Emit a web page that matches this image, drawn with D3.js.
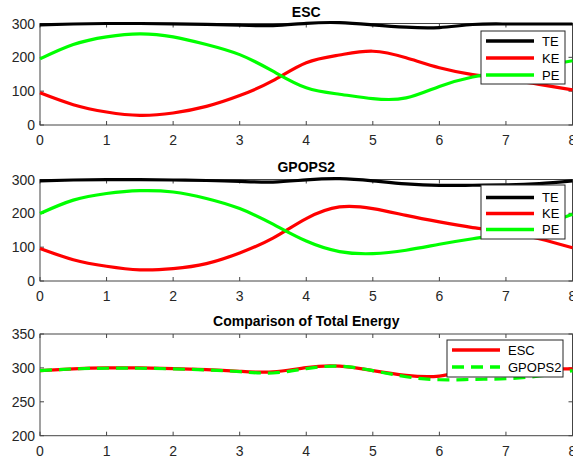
<!DOCTYPE html>
<html>
<head>
<meta charset="utf-8">
<script src="https://cdn.jsdelivr.net/npm/d3@7"></script>
<style>
  body { margin: 0; background: #fff; }
  svg { display: block; font-family: "Liberation Sans", Arial, sans-serif; }
</style>
</head>
<body>
<svg id="chart" width="573" height="460"></svg>
<script>
// time samples (s)
var time = [0, 0.5, 1, 1.5, 2, 2.5, 3, 3.5, 4, 4.5, 5, 5.5, 6, 6.5, 7, 7.5, 8];

// ESC energies
var escTE = [296, 298.5, 300, 300, 299, 297.5, 295, 294, 300.5, 302.5, 296, 289, 288, 297, 298.5, 298.5, 298.5];
var escKE = [95, 60, 38.5, 28.5, 35.5, 55, 87, 131, 184, 207, 218, 198.5, 169, 149, 136, 120, 104];
var escPE = [195.5, 238, 260.6, 269.5, 260.6, 238, 208, 159, 110, 91, 78, 80, 114, 142, 158, 173, 190];

// GPOPS2 energies
var gpTE = [296, 298.5, 299.5, 299.5, 298.5, 297, 294.5, 292.5, 299, 302.5, 296, 287, 282.5, 283, 284, 288, 296];
var gpKE = [96, 63, 43.5, 33, 36.7, 51.5, 83, 127, 184.6, 219, 214, 194, 174.6, 158, 145, 125, 98];
var gpPE = [199.5, 239, 258.6, 267, 263, 244, 214, 168, 118, 87, 81, 91, 108.6, 125, 140, 163, 197];

var xTicks = [0, 1, 2, 3, 4, 5, 6, 7, 8];
var yTicksEnergy = [0, 100, 200, 300];
var yTicksTotal = [200, 250, 300, 350];

var svg = d3.select("#chart");
var left = 40, right = 572.5;
var axisColor = "#444";

function panel(opt) {
  var x = d3.scaleLinear().domain([0, 8]).range([left, right]);
  var y = d3.scaleLinear().domain(opt.ydomain).range([opt.bottom, opt.top]);
  var g = svg.append("g");

  // box
  g.append("rect")
    .attr("x", left).attr("y", opt.top)
    .attr("width", right - left).attr("height", opt.bottom - opt.top)
    .attr("fill", "none").attr("stroke", axisColor).attr("stroke-width", 1);

  // ticks inward on all four sides
  var tl = 4;
  xTicks.forEach(function (t) {
    g.append("line").attr("x1", x(t)).attr("x2", x(t))
      .attr("y1", opt.bottom).attr("y2", opt.bottom - tl)
      .attr("stroke", axisColor);
    g.append("line").attr("x1", x(t)).attr("x2", x(t))
      .attr("y1", opt.top).attr("y2", opt.top + tl)
      .attr("stroke", axisColor);
    g.append("text").attr("x", x(t)).attr("y", opt.bottom + 20)
      .attr("text-anchor", "middle").style("font-size", "14px")
      .attr("fill", "#262626").text(t);
  });
  opt.yticks.forEach(function (v) {
    g.append("line").attr("x1", left).attr("x2", left + tl)
      .attr("y1", y(v)).attr("y2", y(v)).attr("stroke", axisColor);
    g.append("line").attr("x1", right).attr("x2", right - tl)
      .attr("y1", y(v)).attr("y2", y(v)).attr("stroke", axisColor);
    g.append("text").attr("x", 35).attr("y", y(v))
      .attr("dy", "0.36em").attr("text-anchor", "end")
      .style("font-size", "14px").attr("fill", "#262626").text(v);
  });

  // title
  g.append("text").attr("x", (left + right) / 2).attr("y", opt.titleY)
    .attr("text-anchor", "middle").style("font-size", "14px")
    .style("font-weight", "bold").attr("fill", "#000").text(opt.title);

  var line = d3.line()
    .x(function (d, i) { return x(time[i]); })
    .y(function (d) { return y(d); })
    .curve(d3.curveNatural);

  opt.series.forEach(function (s) {
    g.append("path").datum(s.values)
      .attr("d", line)
      .attr("fill", "none")
      .attr("stroke", s.color)
      .attr("stroke-width", 3.2)
      .attr("stroke-dasharray", s.dash || null);
  });

  // legend
  var L = opt.legend;
  var lg = g.append("g");
  lg.append("rect").attr("x", L.x).attr("y", L.y)
    .attr("width", L.w).attr("height", L.h)
    .attr("fill", "#fff").attr("stroke", "#262626").attr("stroke-width", 1);
  opt.series.forEach(function (s, i) {
    var ly = L.y + L.first + i * L.step;
    lg.append("line").attr("x1", L.x + 5).attr("x2", L.x + 5 + L.len)
      .attr("y1", ly).attr("y2", ly)
      .attr("stroke", s.color).attr("stroke-width", 3.5)
      .attr("stroke-dasharray", s.dash || null);
    lg.append("text").attr("x", L.x + L.len + 13).attr("y", ly)
      .attr("dy", "0.36em").style("font-size", "13px")
      .attr("fill", "#000").text(s.name);
  });
}

panel({
  title: "ESC", titleY: 17, top: 23.5, bottom: 125, ydomain: [0, 300], yticks: yTicksEnergy,
  series: [
    {name: "TE", values: escTE, color: "#000000"},
    {name: "KE", values: escKE, color: "#ff0000"},
    {name: "PE", values: escPE, color: "#00ff00"}
  ],
  legend: {x: 481, y: 31, w: 84, h: 53, first: 10, step: 17, len: 48}
});

panel({
  title: "GPOPS2", titleY: 172, top: 179.5, bottom: 281, ydomain: [0, 300], yticks: yTicksEnergy,
  series: [
    {name: "TE", values: gpTE, color: "#000000"},
    {name: "KE", values: gpKE, color: "#ff0000"},
    {name: "PE", values: gpPE, color: "#00ff00"}
  ],
  legend: {x: 481, y: 185, w: 84, h: 54, first: 12.5, step: 16, len: 48}
});

panel({
  title: "Comparison of Total Energy", titleY: 326, top: 334, bottom: 435.7, ydomain: [200, 350], yticks: yTicksTotal,
  series: [
    {name: "ESC", values: escTE, color: "#ff0000"},
    {name: "GPOPS2", values: gpTE, color: "#00ff00", dash: "12,7"}
  ],
  legend: {x: 447, y: 340, w: 116, h: 37, first: 10, step: 17, len: 48}
});
</script>
</body>
</html>
